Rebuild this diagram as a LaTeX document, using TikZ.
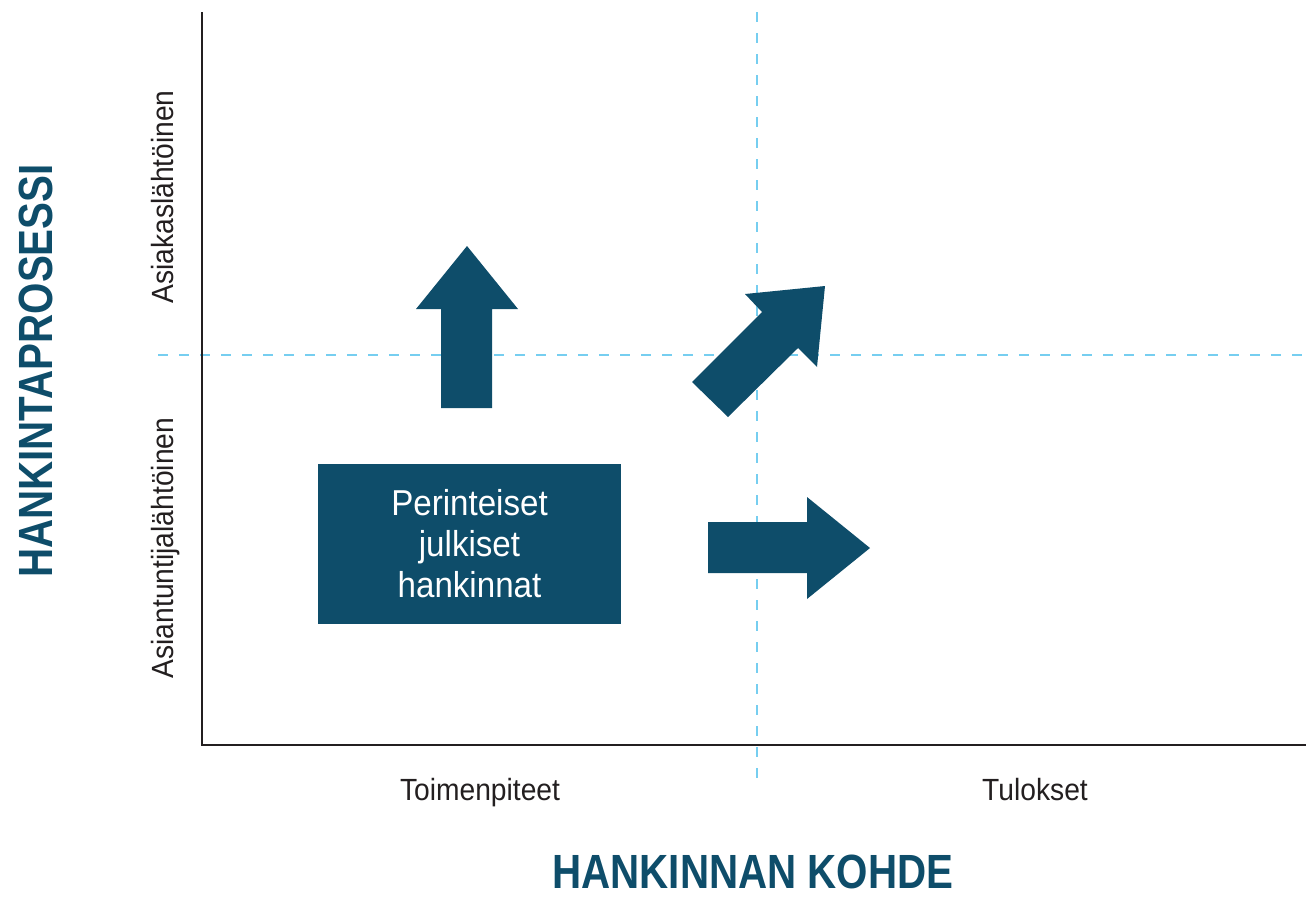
\documentclass[tikz,border=0pt]{standalone}
\usepackage{fontspec}
\setmainfont{Liberation Sans}[FakeStretch=0.92]
\newfontfamily\headfont{Liberation Sans}[FakeStretch=0.84]
\usetikzlibrary{positioning}
\definecolor{teal}{RGB}{14,77,106}
\definecolor{grid}{RGB}{118,206,240}
\definecolor{axis}{RGB}{35,31,32}

\begin{document}
\begin{tikzpicture}[
      x=0.75pt, y=-0.75pt,
      axisline/.style={draw=axis, line width=1.9pt},
      split/.style={draw=grid, line width=1.8pt, dash pattern=on 7.5pt off 8.25pt},
      blockarrow/.style={fill=teal, draw=none},
      label/.style={font=\fontsize{23}{28}\selectfont, text=axis, anchor=base, inner sep=0pt},
      heading/.style={font=\headfont\bfseries\fontsize{36}{40}\selectfont, text=teal, anchor=base, inner sep=0pt},
      box/.style={rectangle, fill=teal, text=white, minimum width=303*0.75pt, minimum height=160*0.75pt,
                  align=center, inner sep=0pt, font=\fontsize{27}{30.75}\selectfont}
    ]
    \useasboundingbox (0,0) rectangle (1306,897);
    % quadrant splits
    \coordinate (vtop) at (757,12);
    \coordinate (vbot) at (757,785);
    \coordinate (hleft) at (158,355);
    \coordinate (hright) at (1306,355);
    \draw[split] (vtop) -- (vbot);
    \draw[split] (hleft) -- (hright);
    % axes
    \coordinate (origin) at (202,745);
    \draw[axisline] (202,12) -- (origin) -- (1306,745);
    % block arrows
    \fill[blockarrow] (441,408) -- (441,309) -- (416,309) -- (467,246) -- (518,309) -- (492,309) -- (492,408) -- cycle;
    \fill[blockarrow] (708,522) -- (807,522) -- (807,497) -- (870,548) -- (807,599) -- (807,573) -- (708,573) -- cycle;
    \fill[blockarrow] (692,382) -- (762,312) -- (745,294) -- (825,286) -- (817,367) -- (798,348) -- (728,417) -- cycle;
    % box
    \node[box] (trad) at (469.5,544) {Perinteiset\\julkiset\\hankinnat};
    % axis labels
    \node[label] (toim) at (480,800) {Toimenpiteet};
    \node[label] (tulo) at (1035,800) {Tulokset};
    \node[label, rotate=90] (asia) at (173,197) {Asiakaslähtöinen};
    \node[label, rotate=90] (asiant) at (173,548) {Asiantuntijalähtöinen};
    \node[heading] (kohde) at (753,888) {HANKINNAN KOHDE};
    \node[heading, rotate=90] (prosessi) at (52,371) {HANKINTAPROSESSI};
\end{tikzpicture}
\end{document}
